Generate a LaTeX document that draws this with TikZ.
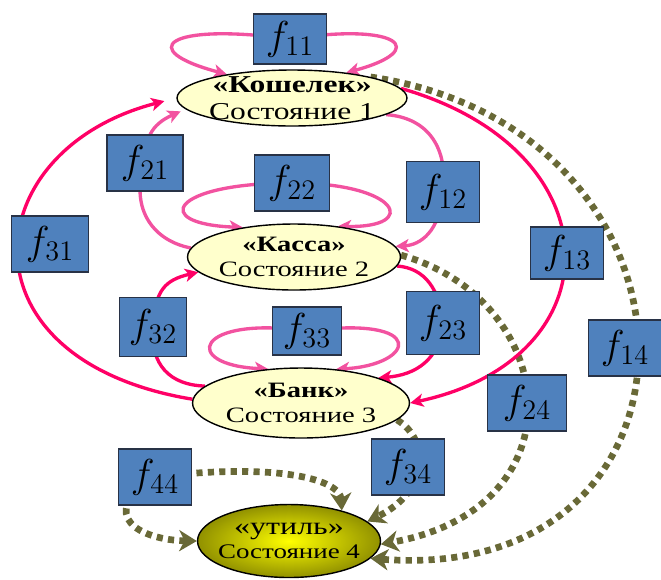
\RequirePackage{fix-cm}
\documentclass[tikz,border=0pt]{standalone}
\usepackage{fontspec}
\newfontfamily\statefont{Liberation Serif}[FakeStretch=1.3]
\usetikzlibrary{arrows.meta,shapes.geometric,backgrounds}
\definecolor{pinkL}{RGB}{242,82,160}
\definecolor{pinkS}{RGB}{255,0,102}
\definecolor{dotolive}{RGB}{105,105,55}
\definecolor{boxblue}{RGB}{79,129,189}
\definecolor{boxline}{RGB}{40,50,70}
\definecolor{statefill}{RGB}{255,255,204}
\definecolor{utilout}{RGB}{145,145,0}

\begin{document}
\begin{tikzpicture}[x=0.02cm,y=-0.02cm,
    >={Stealth[length=7.5pt,width=7.5pt,inset=2pt]},
    state/.style={ellipse,draw=black,line width=0.8pt,fill=statefill,align=center,inner xsep=-6pt,inner ysep=-4pt},
    fn/.style={draw=boxline,line width=0.8pt,fill=boxblue,minimum width=1.46cm,minimum height=1.12cm,inner sep=0pt,font=\fontsize{23}{23}\selectfont},
    flowL/.style={draw=pinkL,line width=1.9pt,->},
    flowS/.style={flowL,draw=pinkS},
    waste/.style={draw=dotolive,line width=3.8pt,dash pattern=on 3.5pt off 3pt,-{Stealth[length=10pt,width=12pt,inset=3pt]}}]
    \useasboundingbox (0,0) rectangle (661,579);

    \node[state,minimum width=4.6cm,minimum height=1.12cm,font=\statefont\fontsize{13.8}{15.5}\selectfont] (S1) at (292,98) {\textbf{«Кошелек»}\\Состояние 1};
    \node[state,minimum width=4.26cm,minimum height=1.32cm,font=\statefont\fontsize{12.5}{14.5}\selectfont] (S2) at (294,257) {\textbf{«Касса»}\\Состояние 2};
    \node[state,minimum width=4.34cm,minimum height=1.4cm,font=\statefont\fontsize{12.5}{14.5}\selectfont] (S3) at (301,403) {\textbf{«Банк»}\\Состояние 3};
    \node[state,shading=radial,inner color=yellow,outer color=utilout,minimum width=3.66cm,minimum height=1.46cm,font=\statefont\fontsize{11.8}{14}\selectfont] (S4) at (289,541) {{\fontsize{14}{14}\selectfont«утиль»}\\Состояние 4};

    \node[fn,minimum height=1cm] (f11) at (290,39) {$f_{11}$};
    \node[fn,minimum width=1.52cm] (f21) at (145,163) {$f_{21}$};
    \node[fn,minimum width=1.5cm] (f22) at (292,183) {$f_{22}$};
    \node[fn,minimum width=1.54cm] (f31) at (50,244) {$f_{31}$};
    \node[fn,minimum height=1.22cm] (f12) at (443,192) {$f_{12}$};
    \node[fn,minimum height=1.04cm] (f13) at (567,253) {$f_{13}$};
    \node[fn,minimum width=1.34cm,minimum height=1.18cm] (f32) at (153,327) {$f_{32}$};
    \node[fn,minimum width=1.38cm,minimum height=0.96cm] (f33) at (307,331) {$f_{33}$};
    \node[fn,minimum height=1.26cm] (f23) at (443,323) {$f_{23}$};
    \node[fn] (f14) at (625,348) {$f_{14}$};
    \node[fn,minimum width=1.58cm] (f24) at (527,403) {$f_{24}$};
    \node[fn] (f34) at (408,467) {$f_{34}$};
    \node[fn] (f44) at (155,477) {$f_{44}$};

    \begin{scope}[on background layer]
    \draw[waste] (S1.15) .. controls (726,130) and (726,586) .. (S4.-12);
    \draw[waste] (S2.1) .. controls (560,300) and (584,508) .. (S4.-2);
    \draw[waste] (S3.-10) .. controls (430,440) and (430,491) .. (S4.14);
    \draw[waste,{Stealth[length=10pt,width=12pt,inset=3pt]}-{Stealth[length=10pt,width=12pt,inset=3pt]}] (S4.180) .. controls (140,540) and (95,515) .. (f44.center) .. controls (280,462) and (340,480) .. (S4.30);

    \draw[flowL,<->] (S1.160) .. controls (135,50) and (165,22) .. (f11.center) .. controls (400,22) and (430,50) .. (S1.25);
    \draw[flowL,<->] (S2.150) .. controls (150,224) and (170,183) .. (f22.center) .. controls (400,183) and (420,228) .. (S2.35);
    \draw[flowL,<->] (S3.134) .. controls (180,365) and (195,315) .. (f33.center) .. controls (430,315) and (415,365) .. (S3.44);
    \draw[flowL,shorten >=3pt] (S2.175) .. controls (150,240) and (130,205) .. (f21.center) .. controls (145,140) and (150,125) .. (S1.186);
    \draw[flowL] (S1.-10) .. controls (430,118) and (448,150) .. (f12.center) .. controls (440,232) and (420,245) .. (S2.6);

    \draw[flowS,shorten >=7pt] (S3.178) .. controls (-45,360) and (-25,150) .. (S1.180);
    \draw[flowS] (S1.5) .. controls (617,150) and (617,359) .. (S3.0);
    \draw[flowS] (S3.170) .. controls (170,385) and (150,365) .. (f32.center) .. controls (155,290) and (165,280) .. (S2.189);
    \draw[flowS] (S2.-5) .. controls (425,268) and (440,290) .. (f23.center) .. controls (440,360) and (415,375) .. (S3.18);
    \end{scope}
\end{tikzpicture}
\end{document}
